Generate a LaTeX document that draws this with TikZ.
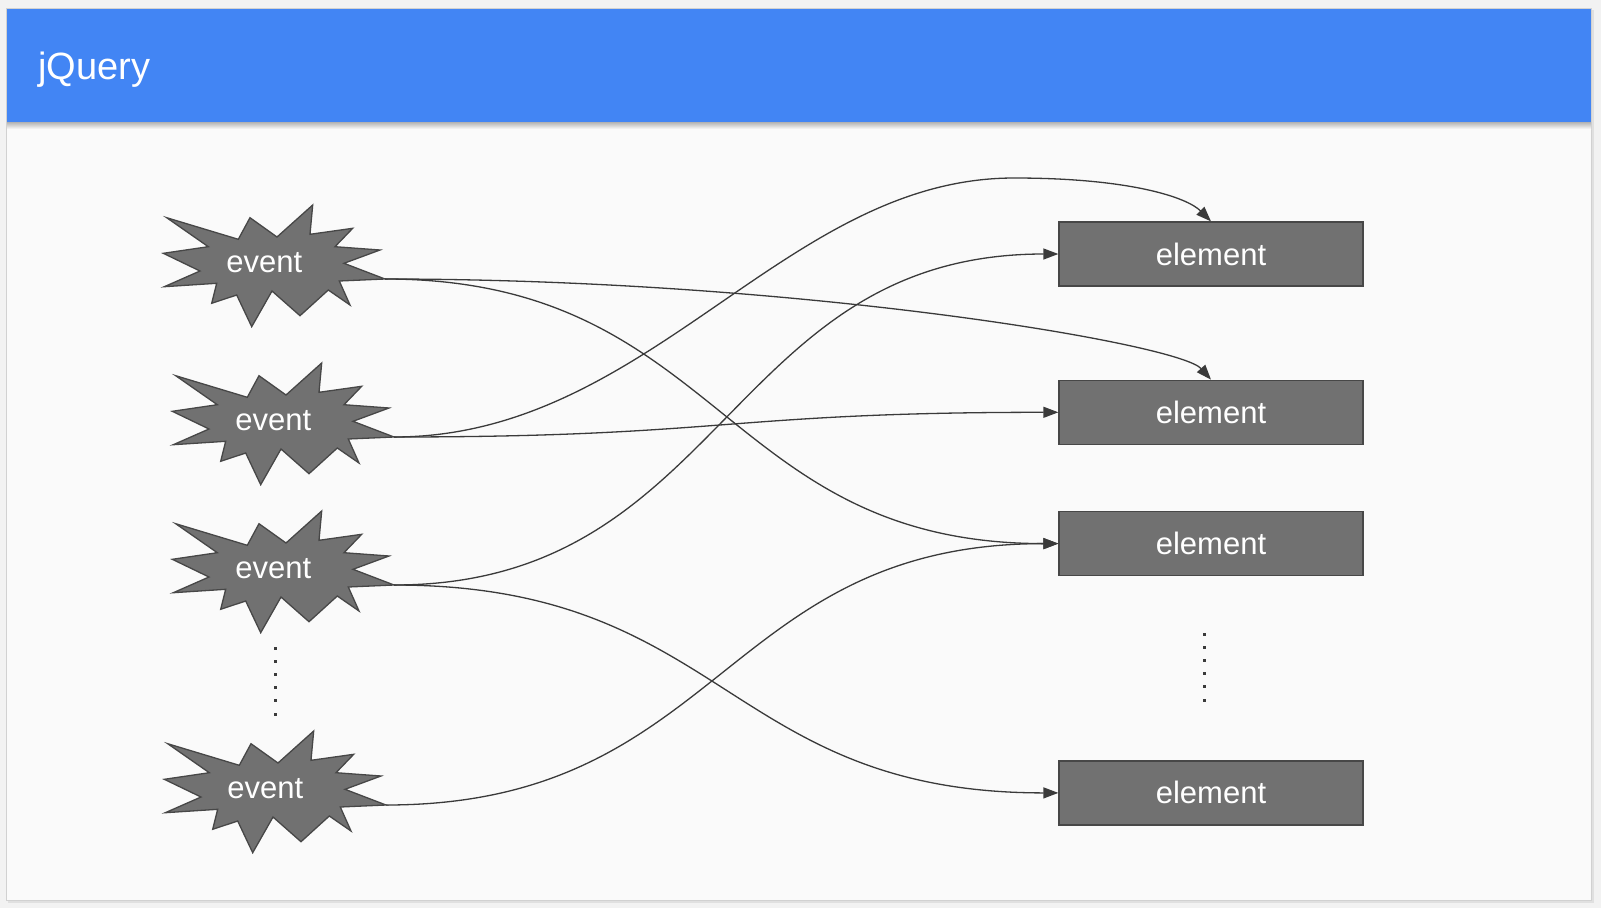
\documentclass[tikz,border=0pt]{standalone}
\usepackage{fontspec}
\setmainfont{Liberation Sans}
\usetikzlibrary{arrows.meta,positioning}
\definecolor{gblue}{HTML}{4285F4}
\definecolor{boxgray}{HTML}{717171}
\definecolor{boxline}{HTML}{474747}
\definecolor{linkgray}{HTML}{3A3A3A}
\definecolor{slidebg}{HTML}{FAFAFA}
\definecolor{pagebg}{HTML}{F2F2F2}

\begin{document}
\begin{tikzpicture}[
    x=1pt, y=-1pt,
    elbox/.style={rectangle, draw=boxline, fill=boxgray, line width=1.3pt, minimum width=304pt, minimum height=64pt, text=white, font=\fontsize{31}{36}\selectfont},
    evtext/.style={text=white, font=\fontsize{31}{36}\selectfont},
    link/.style={draw=linkgray, line width=1.3pt, -{Triangle[length=15pt,width=11pt]}},
    burst/.pic={
        \draw[boxline, fill=boxgray, line width=1.3pt, line join=miter]
            (-218.3,-61.3) -- (-146.7,-39.7) -- (-135,-61.3) -- (-108,-42) -- (-72.3,-74) -- (-75,-44.7)
            -- (-32.3,-50.7) -- (-50,-32.3) -- (-5,-29) -- (-41,-15.7) -- (0,0) -- (-45.7,2)
            -- (-35,26) -- (-56.7,11) -- (-85,36.7) -- (-113,12) -- (-133.3,47.7) -- (-148.3,16)
            -- (-173.3,24.3) -- (-168.3,4.3) -- (-220.7,7.7) -- (-185,-8) -- (-221.7,-25.7) -- (-176.7,-32.3) -- cycle;
        \node[evtext] (-label) at (-120.6,-16.6) {event};
        \coordinate (-tip) at (0,0);
    }
]
\useasboundingbox (0,0) rectangle (1601,908);
\fill[pagebg] (0,0) rectangle (1601,908);
\fill[black!12] (8,10) rectangle (1594,903);
\filldraw[fill=slidebg, draw=black!18] (6.5,8.5) rectangle (1591,900);
\shade[top color=black!30, bottom color=slidebg] (7,122) rectangle (1591,129);
\fill[gblue] (7,9) rectangle (1591,122);
\node[anchor=base west, text=white, font=\fontsize{38}{44}\selectfont, inner sep=0pt] (title) at (38,79) {jQuery};

\pic (ev1) at (385,279) {burst};
\pic (ev2) at (394,437) {burst};
\pic (ev3) at (394,585) {burst};
\pic (ev4) at (386,805) {burst};

\node[elbox] (el1) at (1211,254) {element};
\node[elbox, below=93pt of el1] (el2) {element};
\node[elbox, below=66pt of el2] (el3) {element};
\node[elbox, below=184pt of el3] (el4) {element};

\foreach \k in {0,...,5} {
    \fill[linkgray] (273.5,{646.5+13.2*\k}) rectangle ++(3,3);
    \fill[linkgray] (1202.5,{632.5+13.2*\k}) rectangle ++(3,3);
}

\draw[link] (ev1-tip) .. controls +(337,0) and +(-337,0) .. (el3.west);
\draw[link] (ev1-tip) .. controls +(413,0) and +(-32,-36) .. (el2.north);
\draw[link] (ev2-tip) .. controls +(256,0) and +(-230,0) .. (1014,178) .. controls +(116,0) and +(-24,-24) .. (el1.north);
\draw[link] (ev2-tip) .. controls +(332,0) and +(-332,0) .. (el2.west);
\draw[link] (ev3-tip) .. controls +(332,0) and +(-332,0) .. (el1.west);
\draw[link] (ev3-tip) .. controls +(332,0) and +(-332,0) .. (el4.west);
\draw[link] (ev4-tip) .. controls +(336,0) and +(-336,0) .. (el3.west);
\end{tikzpicture}
\end{document}
